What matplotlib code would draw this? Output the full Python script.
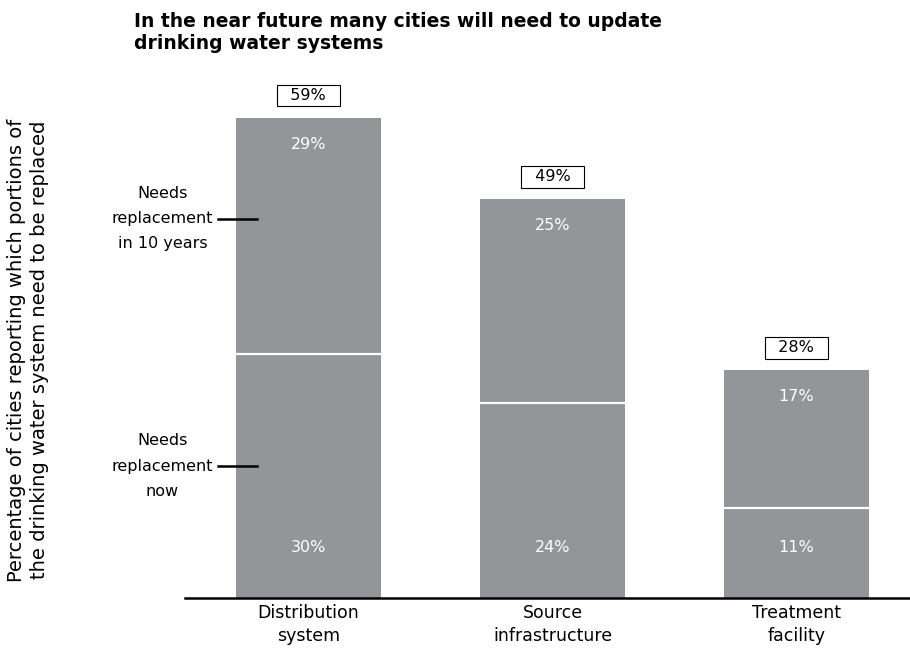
import matplotlib.pyplot as plt

plt.rcParams['font.family'] = ['DejaVu Sans']

categories = ["Distribution\nsystem", "Source\ninfrastructure", "Treatment\nfacility"]
replace_now = [30, 24, 11]
replace_10yr = [29, 25, 17]
totals = [59, 49, 28]

bar_color = "#939598"

fig = plt.figure(figsize=(9.1, 6.5), dpi=100)
ax = fig.add_axes([0.2033, 0.08, 0.7967, 0.814])

x = range(len(categories))
ax.bar(x, replace_now, width=0.594, color=bar_color, edgecolor="none")
ax.bar(x, replace_10yr, width=0.594, bottom=replace_now, color=bar_color, edgecolor="none")

for i in x:
    # white divider between the two segments
    ax.plot([i - 0.297, i + 0.297], [replace_now[i], replace_now[i]], color="white", lw=1.6)
    ax.annotate(f"{replace_now[i]}%", (i, 0), xytext=(0, 36), textcoords="offset points",
                ha="center", va="center", color="white", fontsize=11.5)
    ax.annotate(f"{replace_10yr[i]}%", (i, totals[i]), xytext=(0, -19), textcoords="offset points",
                ha="center", va="center", color="white", fontsize=11.5)
    ax.annotate(f"  {totals[i]}%  ", (i, totals[i]), xytext=(0, 16), textcoords="offset points",
                ha="center", va="center", color="black", fontsize=11.5,
                bbox=dict(boxstyle="square,pad=0.2", fc="white", ec="black", lw=0.8))

ax.set_xlim(-0.506, 2.465)
ax.set_ylim(0, 65)
ax.set_xticks(list(x))
ax.set_xticklabels(categories, fontsize=12.5, linespacing=1.4)
ax.tick_params(axis="x", length=0, pad=4)
ax.set_yticks([])
for side in ["top", "right", "left"]:
    ax.spines[side].set_visible(False)
ax.spines["bottom"].set_linewidth(1.8)

# segment legend on the left of the first bar
legend_items = [("Needs\nreplacement\nin 10 years", 46.6), ("Needs\nreplacement\nnow", 16.2)]
for txt, y in legend_items:
    ax.plot([-0.372, -0.21], [y, y], color="black", lw=1.8, clip_on=False)
    ax.text(-0.39, y, txt, ha="right", va="center", fontsize=11.5, multialignment="center",
            linespacing=1.85)

fig.text(134 / 910, 1 - 12 / 650, "In the near future many cities will need to update\ndrinking water systems",
         ha="left", va="top", fontsize=13.5, fontweight="bold", linespacing=1.2)
fig.text(28 / 910, 1 - 350 / 650,
         "Percentage of cities reporting which portions of\nthe drinking water system need to be replaced",
         ha="center", va="center", rotation=90, fontsize=14, multialignment="center",
         linespacing=1.3)

fig.savefig("out.png", dpi=100)
